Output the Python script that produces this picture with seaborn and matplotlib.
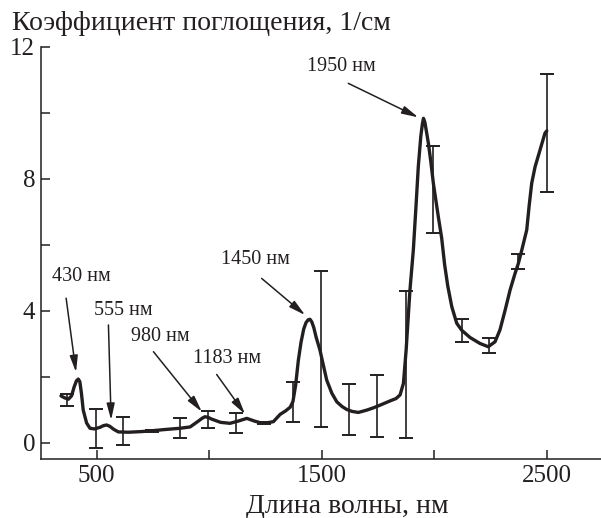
import matplotlib
matplotlib.use("Agg")
import matplotlib.pyplot as plt
import seaborn as sns
import pandas as pd
import numpy as np

# Spectrum curve (wavelength nm, absorption 1/cm)
wavelength = [341, 358, 374, 388, 400, 410, 418, 425, 432, 440, 455, 470, 490, 515, 530, 544, 558, 575, 596,
              640, 700, 737, 800, 870, 915, 950, 970, 981, 995, 1010, 1050, 1092, 1130, 1167, 1200,
              1226, 1260, 1285, 1315, 1340, 1360, 1372, 1384, 1396, 1408, 1420, 1430, 1440, 1448, 1456,
              1465, 1475, 1492, 1522, 1545, 1567, 1590, 1611, 1635, 1663, 1700, 1730, 1759, 1804, 1830, 1848, 1863, 1875,
              1892, 1907, 1920, 1929, 1940, 1947, 1952, 1958, 1966, 1974, 1985, 1996, 2018, 2033, 2046, 2060, 2078,
              2100, 2122, 2159, 2203, 2240, 2270, 2292, 2315, 2337, 2359, 2374, 2389,
              2411, 2422, 2433, 2448, 2470, 2492, 2500]
absorption = [1.42, 1.36, 1.32, 1.42, 1.70, 1.88, 1.93, 1.85, 1.50, 0.99, 0.60, 0.44, 0.42, 0.47, 0.52, 0.54, 0.50, 0.41, 0.33,
              0.32, 0.34, 0.36, 0.40, 0.44, 0.48, 0.65, 0.75, 0.79, 0.77, 0.72, 0.62, 0.59, 0.66, 0.74, 0.66,
              0.61, 0.61, 0.64, 0.86, 0.97, 1.08, 1.25, 1.75, 2.50, 3.05, 3.45, 3.64, 3.73, 3.74, 3.66,
              3.48, 3.20, 2.81, 1.90, 1.50, 1.24, 1.10, 1.01, 0.95, 0.92, 0.99, 1.06, 1.14, 1.27, 1.34, 1.45, 1.80, 2.81,
              4.63, 5.84, 7.30, 8.36, 9.27, 9.65, 9.83, 9.72, 9.40, 9.07, 8.50, 7.86, 6.85, 6.20, 5.40, 4.75, 4.12,
              3.62, 3.41, 3.19, 3.01, 2.91, 3.06, 3.42, 4.02, 4.63, 5.13, 5.44, 5.84,
              6.45, 7.20, 7.86, 8.36, 8.87, 9.38, 9.45]

# Error bars
err_x = [367, 496, 618, 745, 870, 996, 1119, 1243, 1371, 1497, 1623, 1747, 1873, 1996, 2122, 2245, 2374, 2500]
err_lo = [1.11, -0.17, -0.07, 0.33, 0.16, 0.45, 0.30, 0.58, 0.64, 0.48, 0.23, 0.18, 0.15, 6.36, 3.06, 2.73, 5.28, 7.61]
err_hi = [1.47, 1.02, 0.77, 0.40, 0.74, 0.96, 0.89, 0.64, 1.85, 5.21, 1.78, 2.05, 4.60, 8.99, 3.74, 3.16, 5.72, 11.16]

# Annotations: label, text position, arrow start, arrow tip
ann_labels = ["430 нм", "555 нм", "980 нм", "1183 нм", "1450 нм", "1950 нм"]
ann_text_xy = [(430, 5.03), (618, 4.00), (784, 3.21), (1081, 2.56), (1204, 5.56), (1586, 11.39)]
ann_start = [(364, 4.38), (552, 3.57), (752, 2.76), (1033, 2.07), (1233, 4.98), (1618, 10.89)]
ann_tip = [(408, 2.14), (564, 0.69), (967, 0.94), (1159, 0.87), (1426, 3.87), (1929, 9.86)]

x_ticks_major = [500, 1500, 2500]
x_ticks_minor = [1000, 2000]
y_ticks_major = [0, 4, 8, 12]
y_ticks_minor = [2, 6, 10]

sns.set_style("ticks")
plt.rcParams['font.family'] = ['Liberation Serif', 'DejaVu Serif']

ink = '#231f20'
fig = plt.figure(figsize=(6.01, 5.18), dpi=100)
ax = fig.add_axes([40.7 / 601, 58.7 / 518, 1 - 40.7 / 601, (459.3 - 46.7) / 518])

df = pd.DataFrame({"wl": wavelength, "k": absorption})
sns.lineplot(data=df, x="wl", y="k", ax=ax, color=ink, lw=2.4, sort=False, estimator=None)
ax.lines[-1].set_solid_joinstyle('round')

lo = np.array(err_lo)
hi = np.array(err_hi)
ax.errorbar(err_x, (lo + hi) / 2, yerr=(hi - lo) / 2, fmt='none', ecolor=ink,
            elinewidth=1.2, capsize=5, capthick=1.4)

for lab, txy, st, tip in zip(ann_labels, ann_text_xy, ann_start, ann_tip):
    ax.text(txy[0], txy[1], lab, fontsize=14.5, ha='center', va='center', color=ink)
    ax.annotate('', xy=tip, xytext=st,
                arrowprops=dict(arrowstyle='-|>,head_length=0.9,head_width=0.22',
                                lw=1.1, color=ink, shrinkA=0, shrinkB=0,
                                mutation_scale=11))

ax.set_xlim(251, 2741)
ax.set_ylim(-0.5, 12)
ax.set_xticks(x_ticks_major)
ax.set_xticks(x_ticks_minor, minor=True)
ax.set_yticks(y_ticks_major)
ax.set_yticks(y_ticks_minor, minor=True)
ax.tick_params(which='both', direction='in', length=6.5, width=1.1, color=ink,
               labelsize=18, labelcolor=ink)
ax.tick_params(axis='x', which='both', pad=4)
ax.tick_params(axis='y', which='both', pad=4)
ax.set_xlabel('')
ax.set_ylabel('')
for s in ['top', 'right']:
    ax.spines[s].set_visible(False)
for s in ['left', 'bottom']:
    ax.spines[s].set_linewidth(1.1)
    ax.spines[s].set_color(ink)
ax.spines['left'].set_bounds(-0.5, 12)

fig.text(12 / 601, 1 - 30 / 518, 'Коэффициент поглощения, 1/см', fontsize=20,
         ha='left', va='baseline', color=ink)
fig.text(347 / 601, 1 - 513 / 518, 'Длина волны, нм', fontsize=20,
         ha='center', va='baseline', color=ink)

fig.savefig('out.png', dpi=100)
